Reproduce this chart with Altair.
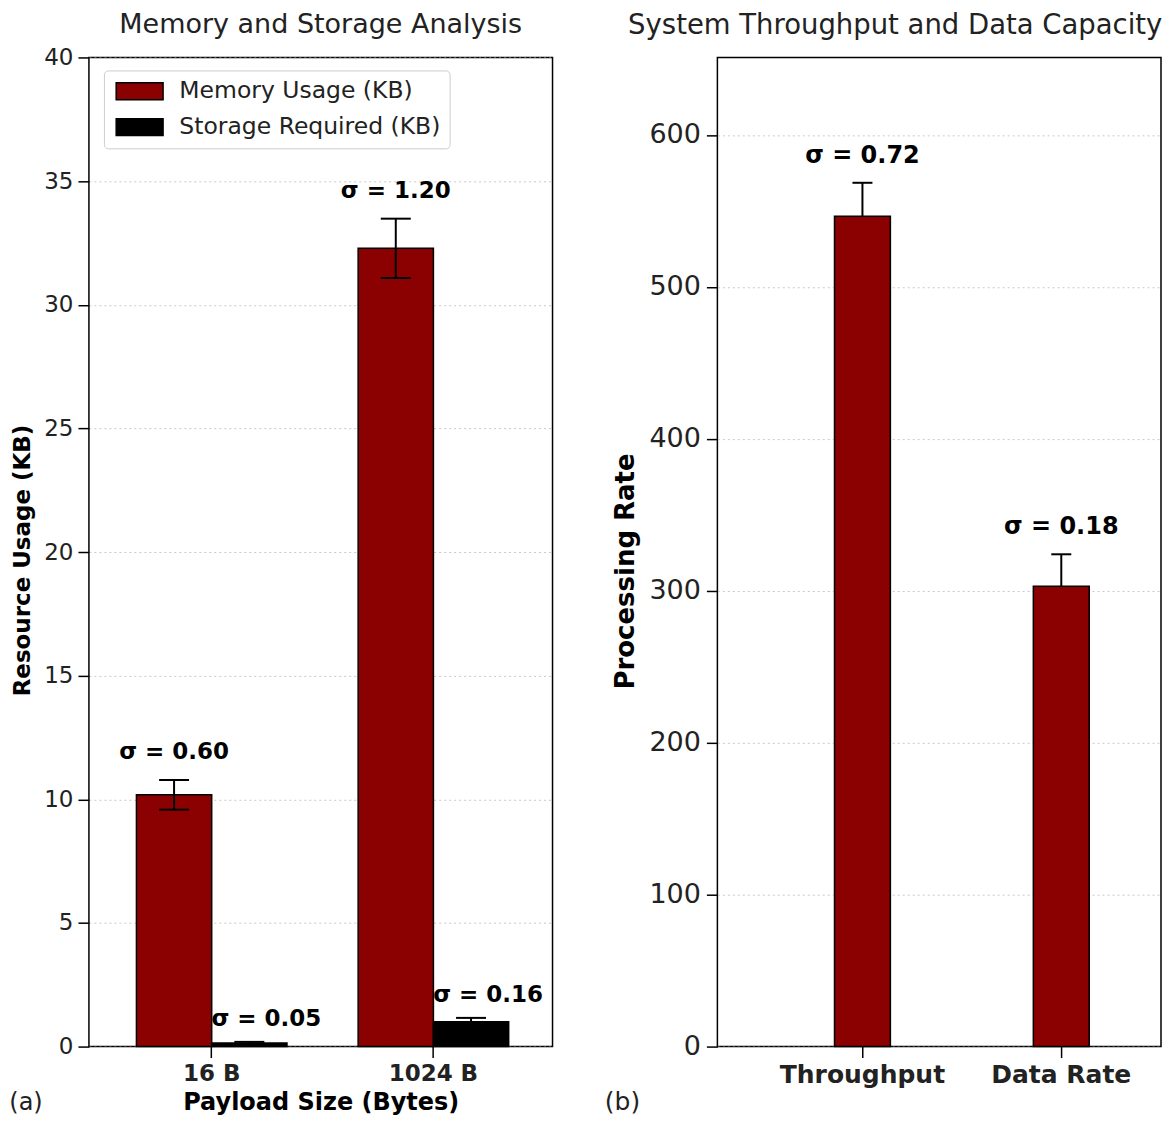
import altair as alt
import pandas as pd

FONT = "DejaVu Sans"

# ---- data (left panel) ----
payloads = ["16 B", "1024 B"]
series_names = ["Memory Usage (KB)", "Storage Required (KB)"]
memory_kb = [10.18, 32.28]
memory_sd = [0.60, 1.20]
storage_kb = [0.14, 1.00]
storage_sd = [0.05, 0.16]

# ---- data (right panel) ----
metrics = ["Throughput", "Data Rate"]
rates = [546.5, 303.0]
rate_err = [22.0, 21.0]
rate_sigma = [0.72, 0.18]

left_rows = []
for i, p in enumerate(payloads):
    left_rows.append(dict(payload=p, series=series_names[0], value=memory_kb[i], sd=memory_sd[i]))
    left_rows.append(dict(payload=p, series=series_names[1], value=storage_kb[i], sd=storage_sd[i]))
left_df = pd.DataFrame(left_rows)
right_df = pd.DataFrame(dict(metric=metrics, value=rates, err=rate_err, sigma=rate_sigma))

H = 990

# ---------------- left panel ----------------
xl = alt.X(
    "payload:N", sort=payloads,
    scale=alt.Scale(paddingInner=0.321, paddingOuter=0.206, align=0.52),
    axis=alt.Axis(title="Payload Size (Bytes)", labelAngle=0, labelFontSize=23,
                  labelFontWeight="bold", titleFontSize=24, titleFontWeight="bold",
                  tickSize=11, labelPadding=5, titlePadding=5, grid=False),
)
xo = alt.XOffset("series:N", sort=series_names, scale=alt.Scale(paddingInner=0, paddingOuter=0))
yl_scale = alt.Scale(domain=[0, 40], nice=False)
yl = alt.Y("value:Q", scale=yl_scale,
           axis=alt.Axis(title="Resource Usage (KB)", values=list(range(0, 41, 5)),
                         labelFontSize=23, titleFontSize=23, titleFontWeight="bold",
                         tickSize=11, labelPadding=5, titlePadding=9, titleY=503))

base_l = alt.Chart(left_df).transform_calculate(
    lo="datum.value - datum.sd",
    hi="datum.value + datum.sd",
    label="'σ = ' + format(datum.sd, '.2f')",
)

bars_l = base_l.mark_bar(stroke="black", strokeWidth=1.5).encode(
    x=xl, xOffset=xo, y=yl,
    color=alt.Color("series:N", sort=series_names,
                    scale=alt.Scale(domain=series_names, range=["#8b0000", "#000000"]),
                    legend=alt.Legend(title=None, orient="none", legendX=15, legendY=13,
                                      direction="vertical", fillColor="white",
                                      strokeColor="#cccccc", cornerRadius=4, padding=9,
                                      labelFontSize=23.5, labelFont=FONT, labelColor="#222222",
                                      labelLimit=0,
                                      symbolType="M-2.76,-1H2.76V1H-2.76Z", symbolSize=289,
                                      symbolOffset=15,
                                      symbolStrokeColor="black", symbolStrokeWidth=1.5,
                                      symbolOpacity=1, labelOffset=28, rowPadding=11)),
)
rule_l = base_l.mark_rule(color="black", strokeWidth=2).encode(
    x=xl, xOffset=xo, y=alt.Y("lo:Q", scale=yl_scale), y2="hi:Q")
cap_hi_l = base_l.mark_tick(color="black", thickness=2, size=30, opacity=1).encode(
    x=xl, xOffset=xo, y=alt.Y("hi:Q", scale=yl_scale))
cap_lo_l = base_l.mark_tick(color="black", thickness=2, size=30, opacity=1).encode(
    x=xl, xOffset=xo, y=alt.Y("lo:Q", scale=yl_scale))
text_mem = base_l.transform_filter(alt.datum.series == series_names[0]).mark_text(
    font=FONT, fontSize=23, fontWeight="bold", dy=-28, baseline="middle", color="black"
).encode(x=xl, xOffset=xo, y=alt.Y("hi:Q", scale=yl_scale), text="label:N")
text_sto = base_l.transform_filter(alt.datum.series == series_names[1]).mark_text(
    font=FONT, fontSize=23, fontWeight="bold", dy=-23, dx=17, baseline="middle", color="black"
).encode(x=xl, xOffset=xo, y=alt.Y("hi:Q", scale=yl_scale), text="label:N")
tag_a = alt.Chart(pd.DataFrame({"t": ["(a)"]})).mark_text(
    font=FONT, fontSize=24, align="center", baseline="middle", color="#222222"
).encode(x=alt.value(-63), y=alt.value(1046), text="t:N")

left = alt.layer(bars_l, rule_l, cap_hi_l, cap_lo_l, text_mem, text_sto, tag_a).properties(
    width=464, height=H,
    title=alt.TitleParams("Memory and Storage Analysis", fontSize=27, fontWeight="normal",
                          font=FONT, color="#222222", offset=7),
)

# ---------------- right panel ----------------
xr = alt.X(
    "metric:N", sort=metrics,
    scale=alt.Scale(paddingInner=0.719, paddingOuter=0.475, align=0.62),
    axis=alt.Axis(title=None, labelAngle=0, labelFontSize=25, labelFontWeight="bold",
                  tickSize=11, labelPadding=5, grid=False),
)
yr_scale = alt.Scale(domain=[0, 651], nice=False)
yr = alt.Y("value:Q", scale=yr_scale,
           axis=alt.Axis(title="Processing Rate", values=list(range(0, 601, 100)),
                         labelFontSize=27, titleFontSize=26, titleFontWeight="bold",
                         tickSize=11, labelPadding=6, titlePadding=10, titleY=514))

base_r = alt.Chart(right_df).transform_calculate(
    hi="datum.value + datum.err",
    label="'σ = ' + format(datum.sigma, '.2f')",
)
bars_r = base_r.mark_bar(stroke="black", strokeWidth=1.5, color="#8b0000").encode(x=xr, y=yr)
rule_r = base_r.mark_rule(color="black", strokeWidth=2).encode(
    x=xr, y=alt.Y("value:Q", scale=yr_scale), y2="hi:Q")
cap_r = base_r.mark_tick(color="black", thickness=2, size=20, opacity=1).encode(
    x=xr, y=alt.Y("hi:Q", scale=yr_scale))
text_r = base_r.mark_text(font=FONT, fontSize=24, fontWeight="bold", dy=-27,
                          baseline="middle", color="black").encode(
    x=xr, y=alt.Y("hi:Q", scale=yr_scale), text="label:N")
tag_b = alt.Chart(pd.DataFrame({"t": ["(b)"]})).mark_text(
    font=FONT, fontSize=25, align="center", baseline="middle", color="#222222"
).encode(x=alt.value(-95), y=alt.value(1045), text="t:N")

right = alt.layer(bars_r, rule_r, cap_r, text_r, tag_b).properties(
    width=444, height=H,
    title=alt.TitleParams("System Throughput and Data Capacity", fontSize=27.5,
                          fontWeight="normal", font=FONT, color="#222222",
                          offset=18, dx=-44),
)

chart = alt.hconcat(left, right, spacing=165, bounds="flush").configure(
    font=FONT, padding={"left": 0, "top": 2, "right": 0, "bottom": 0}
).configure_view(
    stroke="black", strokeWidth=1.5
).configure_axis(
    domain=False, tickColor="black", tickWidth=1.5, labelColor="#222222",
    titleColor="black", labelFont=FONT, titleFont=FONT, zindex=1,
).configure_axisY(
    grid=True, gridColor="#bbbbbb", gridDash=[2, 3], gridWidth=1, gridOpacity=0.8,
).configure_axisX(grid=False)

chart.save("out.html", embed_options={"renderer": "svg", "actions": False})
